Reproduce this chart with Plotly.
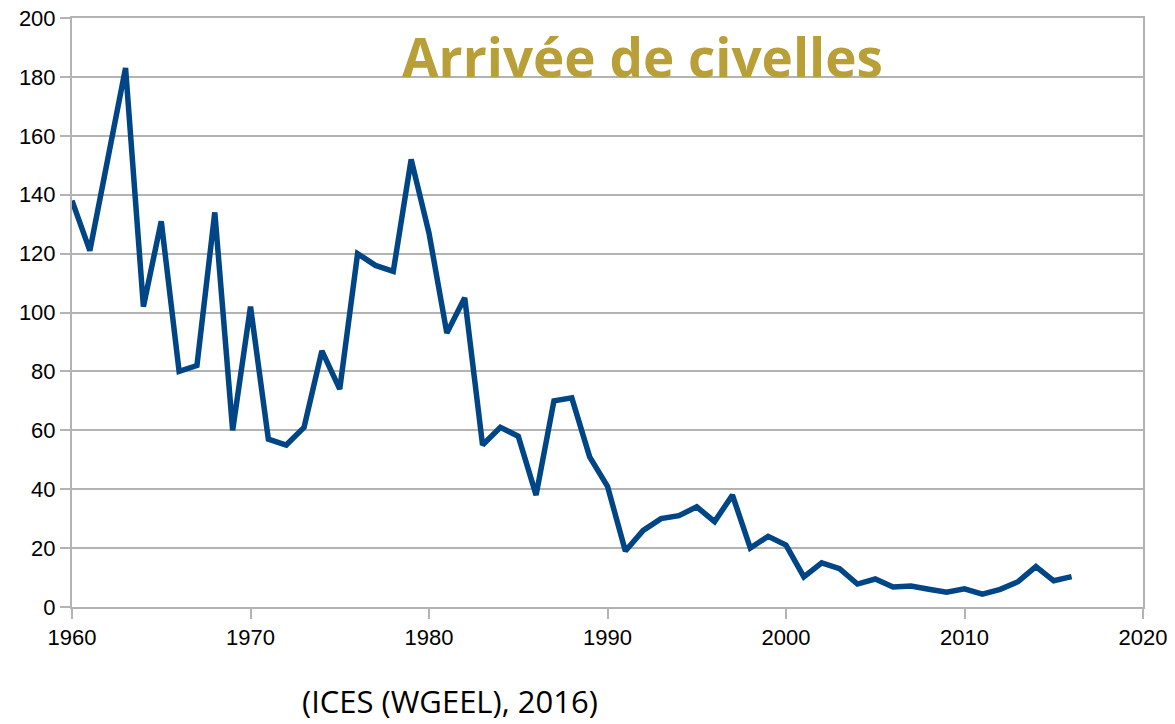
import plotly.graph_objects as go

years = list(range(1960, 2017))
civelles = [138, 121, 152, 183, 102, 131, 80, 82, 134, 60,
            102, 57, 55, 61, 87, 74, 120, 116, 114, 152,
            127, 93, 105, 55, 61, 58, 38, 70, 71, 51,
            41, 19, 26, 30, 31, 34, 29, 38, 20, 24,
            21, 10.2, 15, 13, 7.8, 9.5, 6.8, 7.1, 6, 5,
            6.2, 4.4, 6, 8.6, 13.7, 8.9, 10.3]

fig = go.Figure()
fig.add_trace(go.Scatter(x=years, y=civelles, mode='lines',
                         line=dict(color='#004586', width=5.5), showlegend=False))

# Title and source as free text, like the original slide
fig.add_annotation(text="<b>Arrivée de civelles</b>", xref='paper', yref='paper',
                   x=0.533, y=0.935, yanchor='middle', showarrow=False,
                   font=dict(family="Open Sans", size=53, color='#B99F37'))
fig.add_annotation(text="(ICES (WGEEL), 2016)", xref='paper', yref='paper',
                   x=0.353, y=-0.16, yanchor='middle', showarrow=False,
                   font=dict(family="Open Sans", size=31, color='black'))

fig.update_layout(width=1175, height=724, plot_bgcolor='white', paper_bgcolor='white',
                  margin=dict(l=72, r=32, t=18, b=117),
                  font=dict(family="Liberation Sans", size=22, color='black'))
fig.update_xaxes(range=[1960, 2020], tickvals=[1960, 1970, 1980, 1990, 2000, 2010, 2020],
                 showgrid=False, showline=True, linecolor='#b3b3b3', linewidth=2, mirror=True,
                 ticks='outside', ticklen=10, tickcolor='#b3b3b3', tickwidth=2, zeroline=False,
                 automargin=False)
fig.update_yaxes(range=[0, 200], tickvals=list(range(0, 201, 20)),
                 showgrid=True, gridcolor='#b3b3b3', gridwidth=1.5,
                 showline=True, linecolor='#b3b3b3', linewidth=2, mirror=True,
                 ticks='outside', ticklen=10, tickcolor='#b3b3b3', tickwidth=2, zeroline=False,
                 automargin=False)

# drop the default 8px page margin so the figure fills the window
fig.write_html("out.html", config={'displayModeBar': False},
               post_script="document.body.style.margin='0';")
